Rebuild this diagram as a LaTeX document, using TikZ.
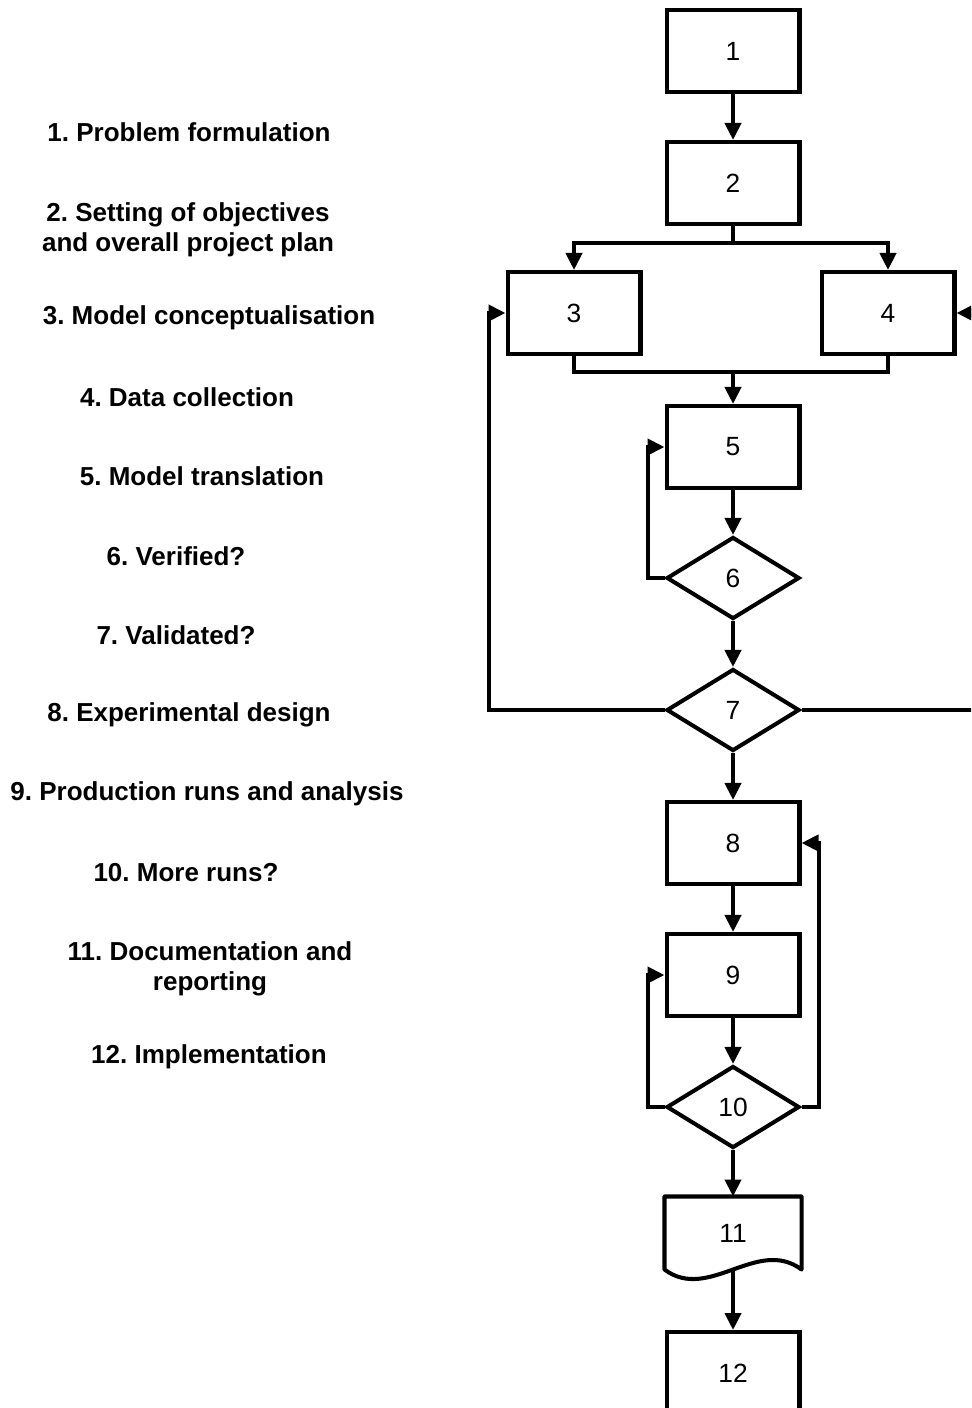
\documentclass[tikz,border=0pt]{standalone}
\usepackage{fontspec}
\setmainfont{Liberation Sans}
\usetikzlibrary{arrows.meta,shapes.geometric}
\definecolor{SimInk}{HTML}{000000}
\definecolor{SimPaper}{HTML}{FFFFFF}
\frenchspacing
\tikzset{
  simbox/.style={
    draw=SimInk,
    fill=SimPaper,
    line width=2.3pt,
    minimum width=2.66cm,
    minimum height=1.64cm,
    inner sep=0pt,
    font=\fontsize{15}{17}\selectfont
  },
  simdecision/.style={
    simbox,
    diamond,
    minimum height=1.64cm
  },
  simline/.style={draw=SimInk,line width=2.3pt},
  simflow/.style={simline,-{Triangle[length=0.34cm,width=0.32cm]}}
}

\begin{document}
\begin{tikzpicture}[
  x=0.02cm,y=-0.02cm,
  stepLabel/.style={font=\bfseries\fontsize{14.8}{17}\selectfont,align=center},
  docbox/.style={simbox,draw=none,fill=none,minimum height=1.38cm}
]
  \useasboundingbox (0,0) rectangle (971,1408);
  \clip (0,0) rectangle (971,1408);

  % legend on the left
  \node[stepLabel] (lab1) at (189,132) {1. Problem formulation};
  \node[stepLabel] (lab2) at (188,230) {2. Setting of objectives\\and overall project plan};
  \node[stepLabel] (lab3) at (209,318) {3. Model conceptualisation};
  \node[stepLabel] (lab4) at (187,397) {4. Data collection};
  \node[stepLabel] (lab5) at (202,476) {5. Model translation};
  \node[stepLabel] (lab6) at (176,556) {6. Verified?};
  \node[stepLabel] (lab7) at (176,635) {7. Validated?};
  \node[stepLabel] (lab8) at (189,715) {8. Experimental design};
  \node[stepLabel] (lab9) at (207,794) {9. Production runs and analysis};
  \node[stepLabel] (lab10) at (186,873) {10. More runs?};
  \node[stepLabel] (lab11) at (210,969) {11. Documentation and\\reporting};
  \node[stepLabel] (lab12) at (209,1057) {12. Implementation};

  % flowchart
  \node[simbox] (s1) at (733,51) {1};
  \node[simbox] (s2) at (733,183) {2};
  \node[simbox] (s3) at (574,313) {3};
  \node[simbox] (s4) at (888,313) {4};
  \node[simbox] (s5) at (733,447) {5};
  \node[simdecision] (s6) at (733,578) {6};
  \node[simdecision] (s7) at (733,710) {7};
  \node[simbox] (s8) at (733,843) {8};
  \node[simbox] (s9) at (733,975) {9};
  \node[simdecision] (s10) at (733,1107) {10};
  \node[docbox] (s11) at (733,1233) {11};
  \node[simbox] (s12) at (733,1373) {12};
  \draw[simline,line join=round] (s11.south east) -- (s11.north east) -- (s11.north west) -- (s11.south west)
    .. controls +(44,33) and +(-44,-33) .. (s11.south east) -- cycle;

  \coordinate (split) at (733,243);
  \coordinate (merge) at (733,372);

  \draw[simflow] (s1) -- (s2);
  \draw[simline] (s2) -- (split);
  \draw[simflow] (split) -| (s3.north);
  \draw[simflow] (split) -| (s4.north);
  \draw[simline] (s3.south) |- (merge) -| (s4.south);
  \draw[simflow] (merge) -- (s5);
  \draw[simflow] (s5) -- (s6);
  \draw[simflow] (s6.west) -- (648,578) |- (s5.west);
  \draw[simflow] (s6) -- (s7);
  \draw[simflow] (s7.west) -- (489,710) |- (s3.west);
  \draw[simflow] (s7.east) -- (976,710) |- (s4.east);
  \draw[simflow] (s7) -- (s8);
  \draw[simflow] (s8) -- (s9);
  \draw[simflow] (s9) -- (s10);
  \draw[simflow] (s10.west) -- (648,1107) |- (s9.west);
  \draw[simflow] (s10.east) -- (819,1107) |- (s8.east);
  \draw[simflow] (s10) -- (s11);
  \draw[simflow] (s11.south) -- (s12);
\end{tikzpicture}
\end{document}
